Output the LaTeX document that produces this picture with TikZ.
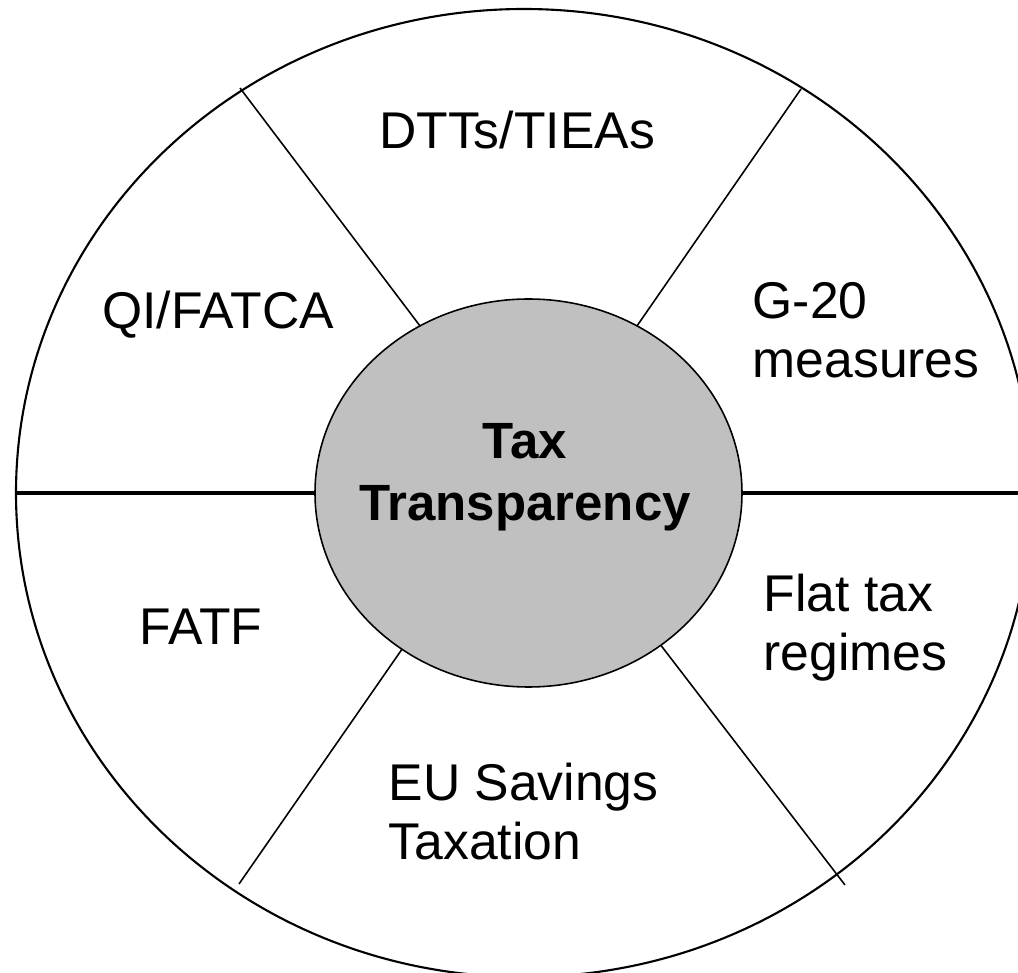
\documentclass[tikz,border=0pt]{standalone}
\usepackage{fontspec}
\setmainfont{Liberation Sans}
\usetikzlibrary{shapes,positioning}
\definecolor{hubgray}{RGB}{192,192,192}
\tikzset{
      rim/.style = {ellipse, draw, line width=0.6pt, inner sep=0pt, outer sep=0pt,
                    minimum width=10.16cm, minimum height=9.68cm},
      hub/.style = {ellipse, draw, fill=hubgray, line width=0.45pt, inner sep=0pt, outer sep=0pt,
                    minimum width=4.27cm, minimum height=3.88cm},
      spoke/.style = {black, line width=0.45pt},
      axis spoke/.style = {black, line width=0.9pt},
      sector/.style = {font=\fontsize{14.7}{16.8}\selectfont, inner sep=0pt, align=left},
      title/.style = {font=\fontsize{14.5}{17.6}\selectfont\bfseries, inner sep=0pt, align=center},
    }

\begin{document}
\begin{tikzpicture}
      \useasboundingbox (0,0) rectangle (10.18,-9.73);
      \clip (0,0) rectangle (10.18,-9.73);

      \node [rim] (rim) at (5.24,-4.93) {};
      \node [hub] (hub) at (5.285,-4.93) {};
      \node [title] (topic) at (5.25,-4.77) {Tax\\Transparency};

      % outer ends of the slanted spokes
      \coordinate (nw) at (2.40,-0.88);
      \coordinate (ne) at (8.01,-0.89);
      \coordinate (sw) at (2.39,-8.84);
      \coordinate (se) at (8.45,-8.85);

      \draw [axis spoke] (rim.west) -- (hub.west);
      \draw [axis spoke] (hub.east) -- (rim.east);
      \draw [spoke] (hub.123.5) -- (nw);
      \draw [spoke] (hub.57.5) -- (ne);
      \draw [spoke] (hub.231.9) -- (sw);
      \draw [spoke] (hub.311.3) -- (se);

      % the six sectors
      \node [sector] (dtt) at (5.17,-1.30) {DTTs/TIEAs};
      \node [sector] (qi) at (2.18,-3.15) {QI/FATCA};
      \node [sector, anchor=west] (gtwenty) at (7.52,-3.30) {G-20\\measures};
      \node [sector] (fatf) at (2.01,-6.27) {FATF};
      \node [sector, anchor=west] (flat) at (7.63,-6.28) {Flat tax\\regimes};
      \node [sector, anchor=west] (eusd) at (3.88,-8.12) {EU Savings\\Taxation};
\end{tikzpicture}
\end{document}
